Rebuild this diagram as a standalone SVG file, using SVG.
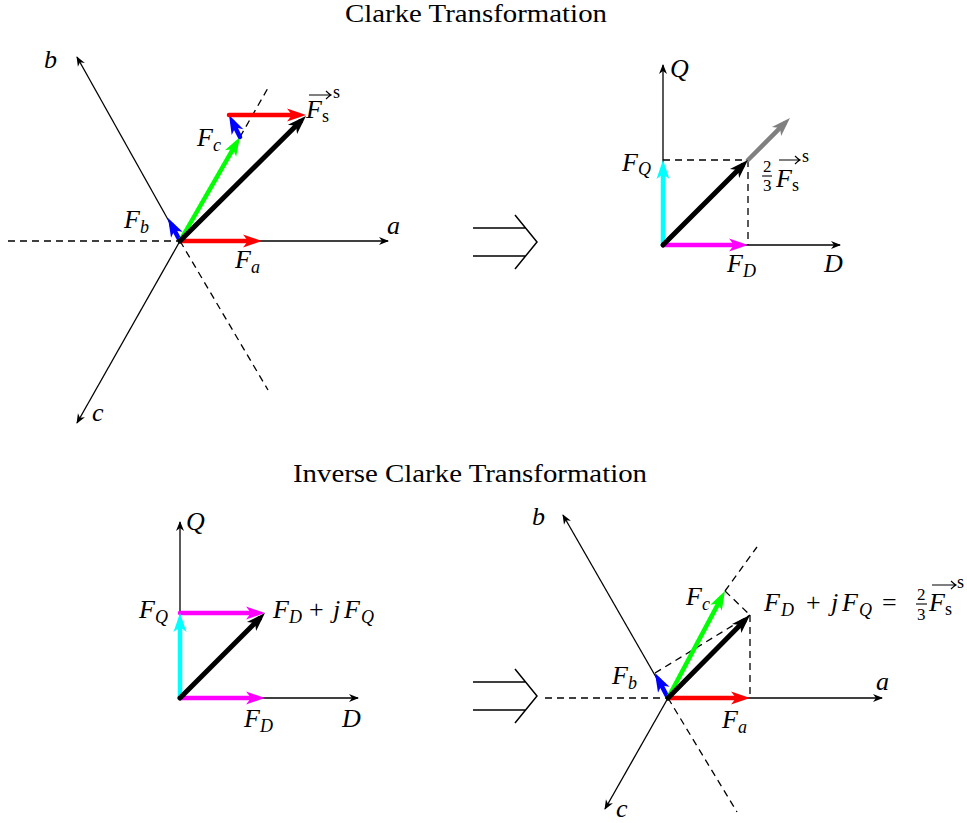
<svg xmlns="http://www.w3.org/2000/svg" width="967" height="823" viewBox="0 0 967 823">
<style>
.bg{fill:#fff}
.ax{stroke:#000;stroke-width:1.3;fill:none}
.ds{stroke:#000;stroke-width:1.3;fill:none;stroke-dasharray:7 5}
.v{fill:none;stroke-width:4.5;stroke-linecap:round}
.vk{fill:none;stroke:#000;stroke-width:5;stroke-linecap:round}
.t{font-family:"Liberation Serif",serif;font-size:25px;fill:#000}
.m{font-family:"Liberation Serif",serif;font-style:italic;font-size:26px;fill:#000}
.sm{font-family:"Liberation Serif",serif;font-style:italic;font-size:18px;fill:#000}
.r{font-family:"Liberation Serif",serif;font-size:26px;fill:#000}
.rs{font-family:"Liberation Serif",serif;font-size:18px;fill:#000}
.fr{font-family:"Liberation Serif",serif;font-size:17px;fill:#000}
.oa{stroke:#000;stroke-width:1.1;fill:none}
.ra{stroke:#000;stroke-width:1.5;fill:none}
</style>
<defs>
<marker id="mA" markerUnits="userSpaceOnUse" viewBox="-12 -6 14 12" markerWidth="14" markerHeight="12" refX="-1" refY="0" orient="auto" overflow="visible"><path d="M0,0 L-10,-4 L-7,0 L-10,4 z" fill="#000"/></marker>
<marker id="mK" markerUnits="userSpaceOnUse" viewBox="-22 -8 24 16" markerWidth="24" markerHeight="16" refX="-8" refY="0" orient="auto" overflow="visible"><path d="M0,0 L-19,-6.5 L-14,0 L-19,6.5 z" fill="#000"/></marker>
<marker id="mR" markerUnits="userSpaceOnUse" viewBox="-22 -8 24 16" markerWidth="24" markerHeight="16" refX="-8" refY="0" orient="auto" overflow="visible"><path d="M0,0 L-19,-6.5 L-14,0 L-19,6.5 z" fill="#ff0000"/></marker>
<marker id="mG" markerUnits="userSpaceOnUse" viewBox="-22 -8 24 16" markerWidth="24" markerHeight="16" refX="-8" refY="0" orient="auto" overflow="visible"><path d="M0,0 L-19,-6.5 L-14,0 L-19,6.5 z" fill="#00ff00"/></marker>
<marker id="mB" markerUnits="userSpaceOnUse" viewBox="-22 -8 24 16" markerWidth="24" markerHeight="16" refX="-8" refY="0" orient="auto" overflow="visible"><path d="M0,0 L-19,-6.5 L-14,0 L-19,6.5 z" fill="#0000ff"/></marker>
<marker id="mC" markerUnits="userSpaceOnUse" viewBox="-22 -8 24 16" markerWidth="24" markerHeight="16" refX="-8" refY="0" orient="auto" overflow="visible"><path d="M0,0 L-19,-6.5 L-14,0 L-19,6.5 z" fill="#00ffff"/></marker>
<marker id="mM" markerUnits="userSpaceOnUse" viewBox="-22 -8 24 16" markerWidth="24" markerHeight="16" refX="-8" refY="0" orient="auto" overflow="visible"><path d="M0,0 L-19,-6.5 L-14,0 L-19,6.5 z" fill="#ff00ff"/></marker>
<marker id="mY" markerUnits="userSpaceOnUse" viewBox="-22 -8 24 16" markerWidth="24" markerHeight="16" refX="-8" refY="0" orient="auto" overflow="visible"><path d="M0,0 L-19,-6.5 L-14,0 L-19,6.5 z" fill="#808080"/></marker>
</defs>
<rect class="bg" x="0" y="0" width="967" height="823"/>

<g id="titles">
<text class="t" x="345" y="22" textLength="262" lengthAdjust="spacingAndGlyphs">Clarke Transformation</text>
<text class="t" x="293" y="482" textLength="354" lengthAdjust="spacingAndGlyphs">Inverse Clarke Transformation</text>
</g>

<g id="connectors">
<path class="ax" d="M180,241 L388,241" marker-end="url(#mA)"/>
<path class="ax" d="M180,241 L77,57" marker-end="url(#mA)"/>
<path class="ax" d="M180,241 L77,423" marker-end="url(#mA)"/>
<path class="ds" d="M8,241 L180,241"/>
<path class="ds" d="M180,241 L268,390"/>
<path class="ds" d="M240,137 L268,88"/>
<path class="v" stroke="#ff0000" d="M180,241 L254,241" marker-end="url(#mR)"/>
<path class="v" stroke="#0000ff" d="M180,241 L171.7,225.1" marker-end="url(#mB)"/>
<path class="v" stroke="#00ff00" d="M180,241 L236,143.9" marker-end="url(#mG)"/>
<path class="v" stroke="#0000ff" d="M240,137 L232.6,122.2" marker-end="url(#mB)"/>
<path class="v" stroke="#ff0000" d="M229,115 L298,115" marker-end="url(#mR)"/>
<path class="vk" d="M180,241 L300.3,121.6" marker-end="url(#mK)"/>

<path class="ax" d="M663,245 L663,65" marker-end="url(#mA)"/>
<path class="ax" d="M663,245 L840,245" marker-end="url(#mA)"/>
<path class="ds" d="M663,160 L748,160 M748,160 L748,245"/>
<path class="v" stroke="#808080" d="M748,160 L784.3,123.7" marker-end="url(#mY)"/>
<path class="v" stroke="#ff00ff" d="M663,245 L740,245" marker-end="url(#mM)"/>
<path class="v" stroke="#00ffff" d="M663,245 L663,168" marker-end="url(#mC)"/>
<path class="vk" d="M663,245 L742.3,165.7" marker-end="url(#mK)"/>

<path class="ax" d="M180,698 L180,522" marker-end="url(#mA)"/>
<path class="ax" d="M180,698 L358,698" marker-end="url(#mA)"/>
<path class="v" stroke="#ff00ff" d="M180,698 L257,698" marker-end="url(#mM)"/>
<path class="v" stroke="#ff00ff" d="M180,613 L257,613" marker-end="url(#mM)"/>
<path class="v" stroke="#00ffff" d="M180,698 L180,621" marker-end="url(#mC)"/>
<path class="vk" d="M180,698 L259.3,618.7" marker-end="url(#mK)"/>

<path class="ax" d="M668,698 L882,698" marker-end="url(#mA)"/>
<path class="ax" d="M668,698 L563,515" marker-end="url(#mA)"/>
<path class="ax" d="M668,698 L605,809" marker-end="url(#mA)"/>
<path class="ds" d="M545,698 L668,698"/>
<path class="ds" d="M668,698 L737,812"/>
<path class="ds" d="M725,591 L757,547"/>
<path class="ds" d="M655,673 L750,615 M725,591 L750,615 M750,615 L750,698"/>
<path class="v" stroke="#ff0000" d="M668,698 L742,698" marker-end="url(#mR)"/>
<path class="v" stroke="#0000ff" d="M668,698 L658.7,680.1" marker-end="url(#mB)"/>
<path class="v" stroke="#00ff00" d="M668,698 L721.2,598.1" marker-end="url(#mG)"/>
<path class="vk" d="M668,698 L744.4,620.7" marker-end="url(#mK)"/>
</g>

<g id="implies-top">
<path class="ra" d="M473,228 H526 M473,256 H526 M515,215 L537,242 L515,269"/>
</g>
<g id="implies-bottom">
<path class="ra" d="M473,682 H526 M473,710 H526 M515,669 L537,696 L515,723"/>
</g>

<g id="labels-top-left">
<text class="m" x="44" y="68">b</text>
<text class="m" x="92" y="421">c</text>
<text class="m" x="387" y="234">a</text>
<text class="m" x="124" y="228">F</text><text class="sm" x="140" y="233">b</text>
<text class="m" x="235" y="268">F</text><text class="sm" x="251" y="273">a</text>
<text class="m" x="197" y="146">F</text><text class="sm" x="213" y="151">c</text>
<text class="m" x="306" y="118">F</text><text class="rs" x="322" y="122">s</text>
<path class="oa" d="M309,95 H331 M326,91 Q329,94 331,95 Q329,96 326,99"/>
<text class="rs" x="333" y="98">s</text>
</g>

<g id="labels-top-right">
<text class="m" x="670" y="77">Q</text>
<text class="m" x="622" y="171">F</text><text class="sm" x="638" y="175">Q</text>
<text class="m" x="727" y="272">F</text><text class="sm" x="743" y="277">D</text>
<text class="m" x="824" y="272">D</text>
<text class="fr" x="763" y="172">2</text>
<path class="oa" d="M762,176 H772"/>
<text class="fr" x="763" y="191">3</text>
<text class="m" x="776" y="187">F</text><text class="rs" x="792" y="191">s</text>
<path class="oa" d="M779,160 H800 M795,156 Q798,159 800,160 Q798,161 795,164"/>
<text class="rs" x="802" y="162">s</text>
</g>

<g id="labels-bottom-left">
<text class="m" x="186" y="530">Q</text>
<text class="m" x="139" y="618">F</text><text class="sm" x="155" y="623">Q</text>
<text class="m" x="273" y="618">F</text><text class="sm" x="289" y="623">D</text>
<text class="r" x="309" y="618">+</text>
<text class="m" x="333" y="618">j</text><text class="m" x="344" y="618">F</text><text class="sm" x="361" y="623">Q</text>
<text class="m" x="244" y="727">F</text><text class="sm" x="260" y="732">D</text>
<text class="m" x="342" y="727">D</text>
</g>

<g id="labels-bottom-right">
<text class="m" x="532" y="525">b</text>
<text class="m" x="616" y="817">c</text>
<text class="m" x="876" y="690">a</text>
<text class="m" x="612" y="684">F</text><text class="sm" x="628" y="689">b</text>
<text class="m" x="722" y="728">F</text><text class="sm" x="738" y="733">a</text>
<text class="m" x="686" y="605">F</text><text class="sm" x="702" y="610">c</text>
<text class="m" x="764" y="611">F</text><text class="sm" x="781" y="616">D</text>
<text class="r" x="806" y="611">+</text>
<text class="m" x="831" y="611">j</text><text class="m" x="842" y="611">F</text><text class="sm" x="859" y="616">Q</text>
<text class="r" x="882" y="611">=</text>
<text class="fr" x="917" y="600">2</text>
<path class="oa" d="M916,604 H927"/>
<text class="fr" x="917" y="620">3</text>
<text class="m" x="929" y="611">F</text><text class="rs" x="945" y="615">s</text>
<path class="oa" d="M932,585 H956 M951,581 Q954,584 956,585 Q954,586 951,589"/>
<text class="rs" x="957" y="588">s</text>
</g>
</svg>
